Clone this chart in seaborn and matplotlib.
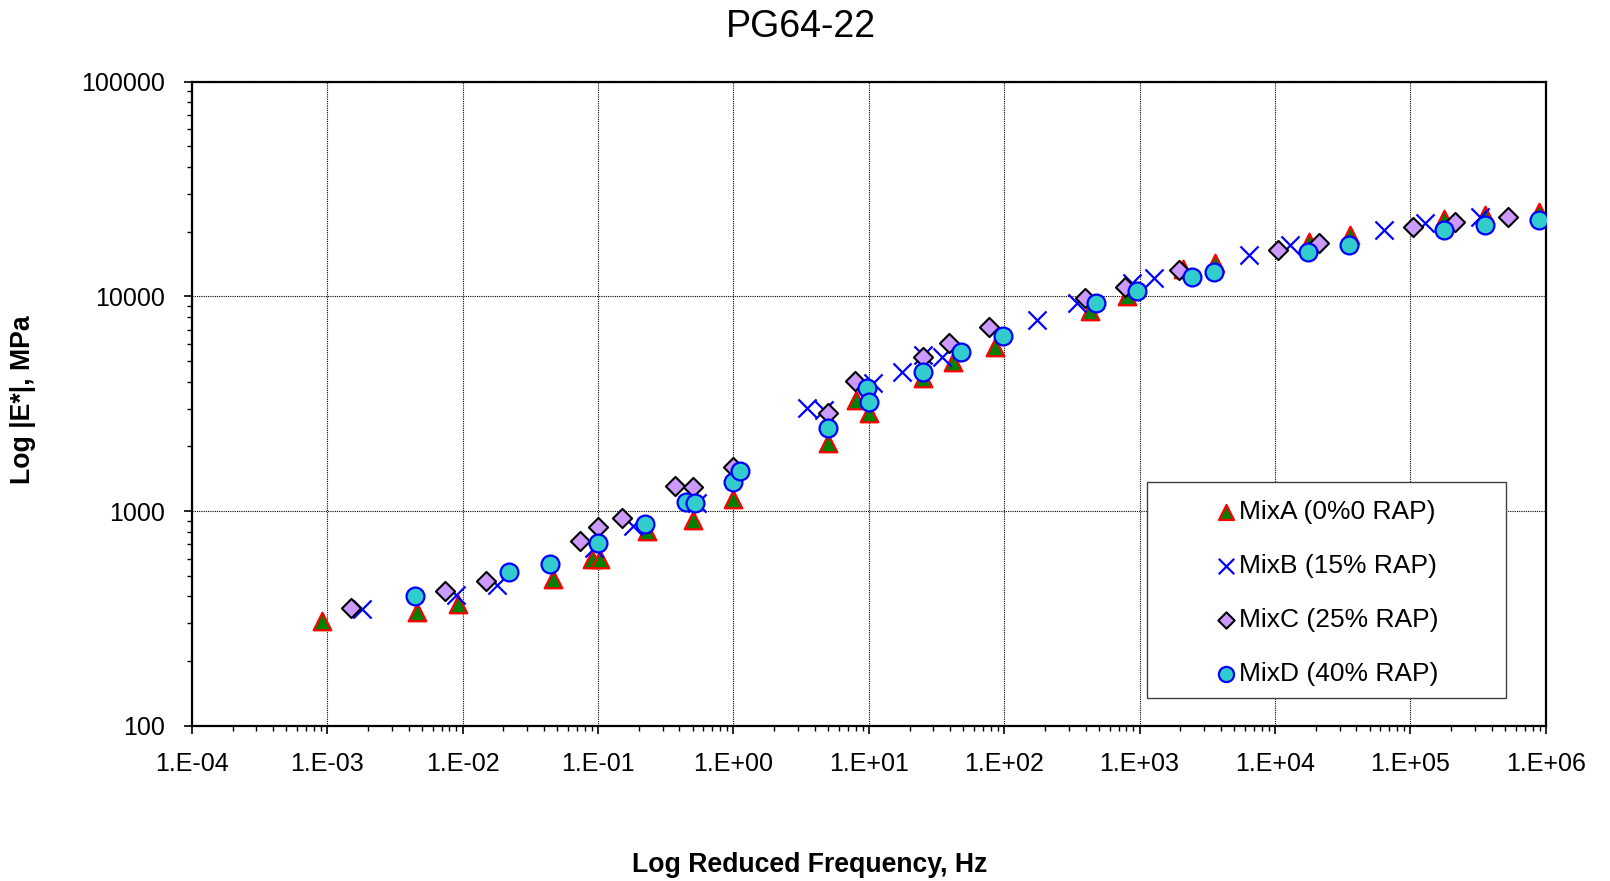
import numpy as np
import pandas as pd
import matplotlib
matplotlib.use("Agg")
import matplotlib.pyplot as plt
import matplotlib.ticker as mticker
from matplotlib.patches import Rectangle
import seaborn as sns

# reduced frequency (Hz) and dynamic modulus |E*| (MPa)
freq_a = [9.2e-4, 4.63e-3, 9.3e-3, 0.0463, 0.0899, 0.1035, 0.232, 0.50, 1.0, 5.04, 8.1, 10.0,
          25, 42.2, 85.7, 430, 804, 2110, 3610, 17900, 35900, 177500, 356600, 898000]
e_a = [309, 340, 368, 481, 597, 597, 811, 910, 1135, 2070, 3290, 2853,
       4150, 4970, 5830, 8570, 10000, 13370, 14260, 17990, 19300, 22850, 23930, 24830]

freq_b = [1.8e-3, 8.95e-3, 0.0181, 0.0935, 0.181, 0.537, 3.52, 4.7, 10.8, 17.7, 25, 35,
          176, 344, 875, 1280, 6440, 12900, 64300, 128500, 327000]
e_b = [349, 406, 453, 671, 853, 1094, 3012, 2950, 3937, 4425, 5330, 5236,
       7762, 9290, 11510, 12130, 15600, 17340, 20370, 21880, 23500]

freq_c = [1.49e-3, 7.43e-3, 0.0148, 0.0738, 0.1007, 0.150, 0.371, 0.507, 1.0, 5.04, 7.9, 25,
          39.2, 77.8, 395, 782, 1970, 10600, 21200, 105000, 214000, 530000]
e_c = [352, 426, 474, 728, 841, 925, 1309, 1300, 1610, 2870, 4030, 5200,
       6050, 7180, 9850, 11090, 13280, 16450, 17780, 20980, 22270, 23500]

freq_d = [4.46e-3, 0.0222, 0.0443, 0.0998, 0.223, 0.448, 0.521, 1.0, 1.12, 5.04, 9.7, 10.0,
          25, 48.1, 97.8, 478, 955, 2430, 3570, 17670, 35500, 178000, 356600, 898000]
e_d = [404, 520, 569, 713, 871, 1107, 1095, 1372, 1541, 2433, 3733, 3236,
       4460, 5520, 6560, 9290, 10640, 12370, 13030, 16150, 17340, 20370, 21540, 22680]

labels = ["MixA (0%0 RAP)", "MixB (15% RAP)", "MixC (25% RAP)", "MixD (40% RAP)"]

df = pd.concat([
    pd.DataFrame({"freq": f, "E": e, "mix": lab})
    for f, e, lab in zip([freq_a, freq_b, freq_c, freq_d], [e_a, e_b, e_c, e_d], labels)
])

styles = {
    labels[0]: dict(marker="^", s=160, color="#008000", edgecolor="#FF0000", linewidth=1.6),
    labels[1]: dict(marker="x", s=170, color="#0000FF", edgecolor="#0000FF", linewidth=1.6),
    labels[2]: dict(marker="D", s=95, color="#CC99FF", edgecolor="black", linewidth=1.5),
    labels[3]: dict(marker="o", s=165, color="#33CCCC", edgecolor="#0000FF", linewidth=1.6),
}

sns.set_theme(style="white")
plt.rcParams["font.family"] = ["Liberation Sans", "DejaVu Sans"]
plt.rcParams["text.color"] = "black"

fig = plt.figure(figsize=(16.1, 8.81), dpi=100)
ax = fig.add_axes([0.1191, 0.1763, 0.8410, 0.7310])

for mix, sub in df.groupby("mix", sort=False):
    sns.scatterplot(data=sub, x="freq", y="E", ax=ax, label=mix, zorder=3, **styles[mix])

ax.set_xscale("log")
ax.set_yscale("log")
ax.set_xlim(1e-4, 1e6)
ax.set_ylim(100, 1e5)

ax.xaxis.set_major_locator(mticker.LogLocator(base=10, numticks=20))
ax.xaxis.set_minor_locator(mticker.LogLocator(base=10, subs=np.arange(2, 10), numticks=200))
ax.yaxis.set_major_locator(mticker.LogLocator(base=10, numticks=20))
ax.yaxis.set_minor_locator(mticker.LogLocator(base=10, subs=np.arange(2, 10), numticks=200))
ax.xaxis.set_major_formatter(mticker.FuncFormatter(lambda v, p: f"1.E{int(round(np.log10(v))):+03d}"))
ax.yaxis.set_major_formatter(mticker.FuncFormatter(lambda v, p: f"{v:.0f}"))
ax.xaxis.set_minor_formatter(mticker.NullFormatter())
ax.yaxis.set_minor_formatter(mticker.NullFormatter())

ax.tick_params(which="major", direction="out", length=6, width=1.2, colors="black",
               labelsize=18, pad=13, bottom=True, left=True)
ax.tick_params(which="minor", direction="out", length=3.5, width=1.0, colors="black",
               bottom=True, left=True)

ax.grid(True, which="major", color="black", linestyle=(0, (1, 1)), linewidth=0.8)
ax.set_axisbelow(True)
for sp in ax.spines.values():
    sp.set_color("black")
    sp.set_linewidth(1.6)

ax.set_xlabel("")
ax.set_ylabel("")

# legend box
ax.add_patch(Rectangle((0.7055, 0.043), 0.265, 0.3354, transform=ax.transAxes,
                       facecolor="white", edgecolor="#404040", linewidth=1.0, zorder=4))
leg = ax.legend(loc="center", bbox_to_anchor=(0.838, 0.2057), frameon=False, fontsize=19,
                handletextpad=0.05, labelspacing=1.14, handlelength=0.9, markerscale=0.85)
for t in leg.get_texts():
    t.set_color("black")

fig.text(0.4975, 0.969, "PG64-22", ha="center", va="center", fontsize=27, color="black")
fig.text(0.503, 0.0187, "Log Reduced Frequency, Hz", ha="center", va="center",
         fontsize=19.2, fontweight="bold", color="black")
fig.text(0.014, 0.546, "Log |E*|, MPa", ha="center", va="center", rotation=90,
         fontsize=19.2, fontweight="bold", color="black")

fig.savefig("out.png", dpi=100)
